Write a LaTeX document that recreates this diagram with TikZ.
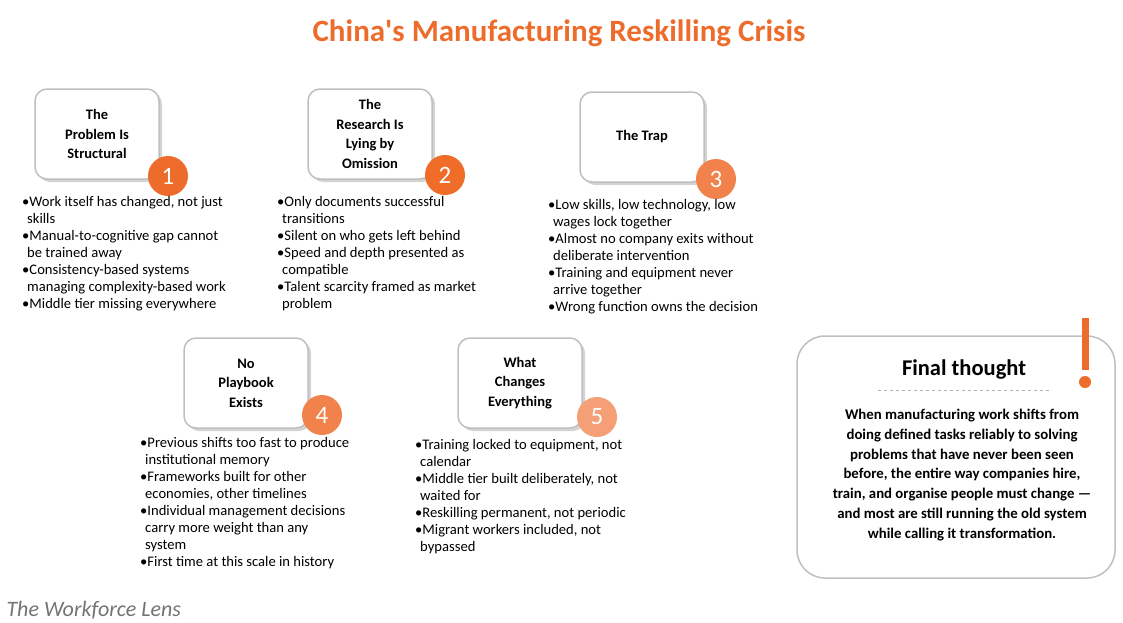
\documentclass[tikz,border=0pt]{standalone}
\usepackage{fontspec}
\setmainfont[Ligatures=TeX]{Carlito}
\usetikzlibrary{shadows}
\definecolor{org}{HTML}{EE6C2B}
\begin{document}
\begin{tikzpicture}[x=1pt,y=-1pt,
 card/.style={draw=black!25,line width=1.5pt,fill=white,rounded corners=12pt,minimum width=124pt,minimum height=90pt,
   align=center,font=\bfseries\fontsize{14.5}{19.5}\selectfont,drop shadow={shadow xshift=3pt,shadow yshift=-3pt,opacity=0.35}},
 num/.style={circle,fill=#1,minimum size=40pt,inner sep=0pt,text=white,font=\fontsize{25}{25}\selectfont},
 lst/.style={anchor=north west,align=left,inner sep=0pt,font=\fontsize{14.6}{17}\selectfont}]
\useasboundingbox (0,0) rectangle (1123,622);
\node[font=\bfseries\fontsize{31}{34}\selectfont,text=org] (title) at (559,33) {China\textquotesingle s Manufacturing Reskilling Crisis};
\node[card] (b1) at (97,134) {The\\Problem Is\\Structural};
\node[num=org] (n1) at (168,176) {1};
\node[lst] (l1) at (22,196) {•Work itself has changed, not just\\\hspace*{5pt}skills\\•Manual-to-cognitive gap cannot\\\hspace*{5pt}be trained away\\•Consistency-based systems\\\hspace*{5pt}managing complexity-based work\\•Middle tier missing everywhere};
\node[card] (b2) at (370,134) {The\\Research Is\\Lying by\\Omission};
\node[num={org!95!orange}] (n2) at (445,175) {2};
\node[lst] (l2) at (277,196) {•Only documents successful\\\hspace*{5pt}transitions\\•Silent on who gets left behind\\•Speed and depth presented as\\\hspace*{5pt}compatible\\•Talent scarcity framed as market\\\hspace*{5pt}problem};
\node[card] (b3) at (642,137) {The Trap};
\node[num={org!85!white}] (n3) at (716,179) {3};
\node[lst] (l3) at (548,199) {•Low skills, low technology, low\\\hspace*{5pt}wages lock together\\•Almost no company exits without\\\hspace*{5pt}deliberate intervention\\•Training and equipment never\\\hspace*{5pt}arrive together\\•Wrong function owns the decision};
\node[card] (b4) at (246,383) {No\\Playbook\\Exists};
\node[num={org!85!white}] (n4) at (322,415) {4};
\node[lst] (l4) at (140,437) {•Previous shifts too fast to produce\\\hspace*{5pt}institutional memory\\•Frameworks built for other\\\hspace*{5pt}economies, other timelines\\•Individual management decisions\\\hspace*{5pt}carry more weight than any\\\hspace*{5pt}system\\•First time at this scale in history};
\node[card] (b5) at (520,383) {What\\Changes\\Everything};
\node[num={org!65!white}] (n5) at (597,417) {5};
\node[lst] (l5) at (415,439) {•Training locked to equipment, not\\\hspace*{5pt}calendar\\•Middle tier built deliberately, not\\\hspace*{5pt}waited for\\•Reskilling permanent, not periodic\\•Migrant workers included, not\\\hspace*{5pt}bypassed};
\draw[draw=black!25,line width=1.5pt,fill=white,rounded corners=28pt] (797,336) rectangle (1115,578);
\node[font=\bfseries\fontsize{22.5}{25}\selectfont] (ft) at (964,370) {Final thought};
\draw[black!30,dashed,line width=1pt] (878,390) -- (1050,390);
\node[align=center,font=\bfseries\fontsize{14.8}{19.8}\selectfont] (para) at (962,475) {When manufacturing work shifts from\\doing defined tasks reliably to solving\\problems that have never been seen\\before, the entire way companies hire,\\train, and organise people must change —\\and most are still running the old system\\while calling it transformation.};
\draw[org,line width=7pt] (1085,318) -- (1085,370);
\fill[org] (1085,382) circle (6pt);
\node[anchor=west,text=black!55,font=\itshape\fontsize{22}{24}\selectfont] (wl) at (3,610) {The Workforce Lens};
\end{tikzpicture}
\end{document}
